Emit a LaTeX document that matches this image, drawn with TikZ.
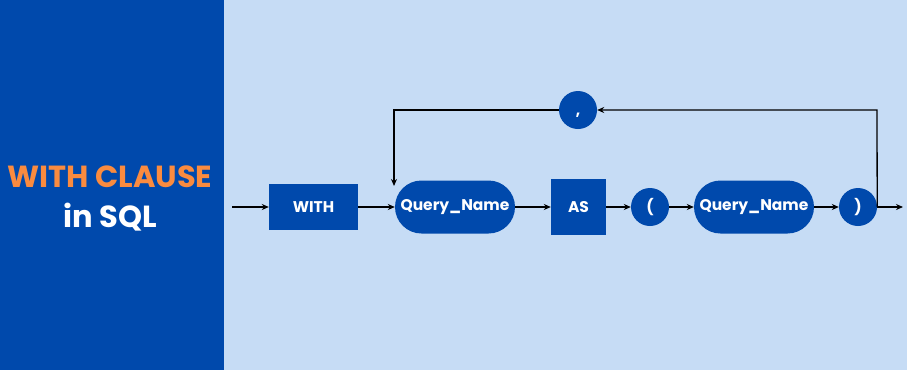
\documentclass[tikz,border=0pt]{standalone}
\usepackage{fontspec}
\setmainfont{Poppins}
\usetikzlibrary{arrows.meta,shapes.misc}
\definecolor{dkblue}{HTML}{0049AC}
\definecolor{ltblue}{HTML}{C6DCF5}
\definecolor{orng}{HTML}{FA8B3F}
\tikzset{
  rbox/.style={fill=dkblue, draw=none, text=white, font=\bfseries\fontsize{15.5}{17}\selectfont, inner sep=0pt},
  pill/.style={rbox, rounded rectangle, minimum width=120pt, minimum height=53pt},
  sq/.style={rbox, rectangle},
  circ/.style={rbox, circle, minimum size=38pt},
  conn/.style={draw=black, line width=1.3pt, -{Stealth[length=7pt,width=6pt]}},
  line/.style={draw=black, line width=1.3pt}
}
\begin{document}
\begin{tikzpicture}[x=1pt,y=-1pt]
\useasboundingbox (0,0) rectangle (907,370);
\fill[ltblue] (0,0) rectangle (907,370);
\fill[dkblue] (0,0) rectangle (224,370);
\node[text=orng, font=\bfseries\fontsize{30.5}{34}\selectfont] (t1) at (110,177) {WITH CLAUSE};
\node[text=white, font=\bfseries\fontsize{30.5}{34}\selectfont] (t2) at (110,217) {in SQL};

\node[sq, minimum width=89pt, minimum height=46pt] (with) at (313.5,207) {WITH};
\node[pill] (qn1) at (455,207) {Query\_Name};
\node[sq, minimum width=55pt, minimum height=56pt] (as) at (578.5,207) {AS};
\node[circ] (lp) at (650,207) {(};
\node[pill] (qn2) at (754,207) {Query\_Name};
\node[circ] (rp) at (858,207) {)};
\node[circ, text height=0pt, text depth=0pt] (comma) at (578,110) {\raisebox{-5pt}{,}};

\coordinate (start) at (232,207);
\coordinate (exit) at (903,207);
\coordinate (topright) at (877,110);
\coordinate (topleft) at (394,110);
\coordinate (landing) at (394,186);

\draw[conn] (start) -- (with.west);
\draw[conn] (with.east) -- (qn1.west);
\draw[conn] (qn1.east) -- (as.west);
\draw[conn] (as.east) -- (lp.west);
\draw[conn] (lp.east) -- (qn2.west);
\draw[conn] (qn2.east) -- (rp.west);
\draw[conn] (rp.east) -- (exit);
\draw[conn] (rp.east) -- (topright) -- (comma.east);
\draw[conn] (comma.west) -- (topleft) -- (landing);
\end{tikzpicture}
\end{document}
